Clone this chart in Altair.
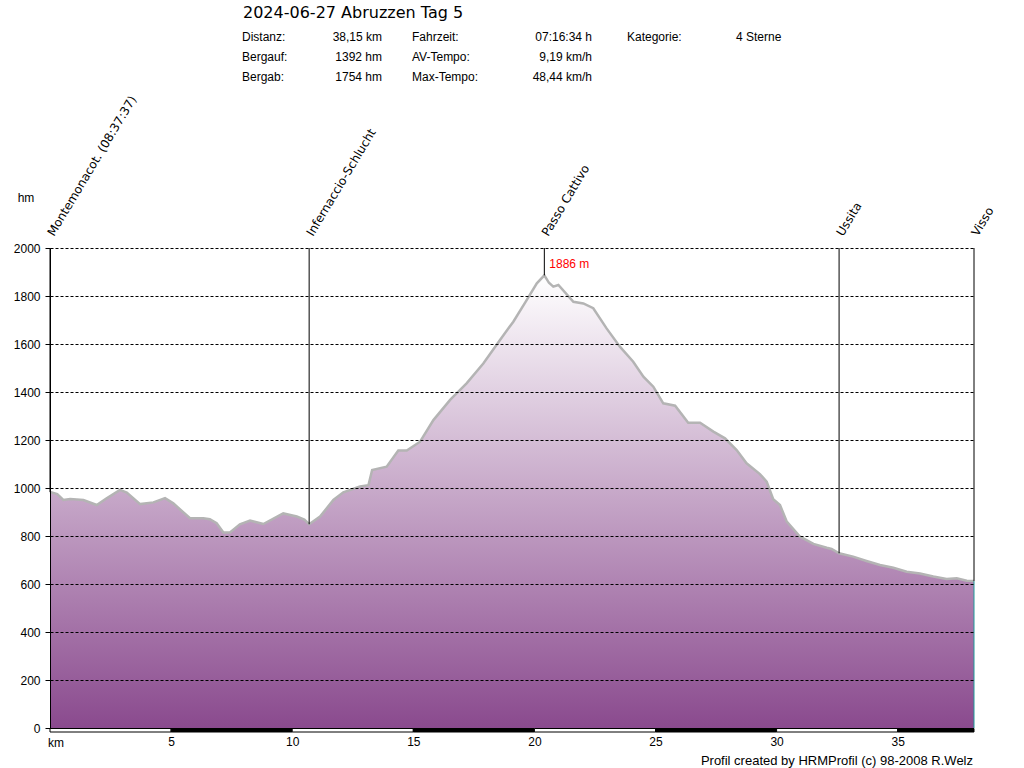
import altair as alt
import pandas as pd

# ---- data ----
km = [0, 0.3, 0.55, 0.83, 1.38, 1.93, 2.34, 2.89, 3.17, 3.72, 4.27, 4.75, 5.09, 5.78, 6.33, 6.6,
      6.88, 7.16, 7.43, 7.84, 8.26, 8.81, 9.63, 10.19, 10.5, 10.7, 11.15, 11.7, 12.11, 12.8, 13.15,
      13.3, 13.9, 14.38, 14.73, 15.28, 15.83, 16.52, 17.2, 17.89, 18.58, 19.13, 19.68, 20.1, 20.41,
      20.6, 20.78, 20.99, 21.61, 22.02, 22.43, 22.98, 23.53, 24.08, 24.5, 24.91, 25.32, 25.81, 26.35,
      26.84, 27.39, 27.87, 28.35, 28.76, 29.31, 29.59, 29.86, 30.14, 30.42, 30.97, 31.52, 32.07,
      32.27, 32.58, 33.16, 33.71, 34.27, 34.82, 35.37, 35.92, 36.47, 37.02, 37.44, 37.85, 38.15]
elev = [983, 975, 950, 954, 950, 929, 957, 992, 981, 933, 940, 958, 936, 874, 874, 870,
        853, 815, 815, 849, 864, 850, 894, 881, 868, 849, 881, 950, 982, 1006, 1012,
        1075, 1089, 1156, 1156, 1193, 1283, 1367, 1436, 1519, 1617, 1693, 1783, 1853, 1886,
        1855, 1839, 1846, 1776, 1769, 1749, 1665, 1589, 1526, 1464, 1422, 1353, 1343, 1272,
        1272, 1235, 1207, 1158, 1103, 1058, 1026, 953, 929, 860, 797, 767, 751,
        746, 728, 714, 696, 679, 668, 651, 644, 631, 621, 624, 614, 612]

wp_names = ["Montemonacot. (08:37:37)", "Infernaccio-Schlucht", "Passo Cattivo", "Ussita", "Visso"]
wp_km = [0, 10.7, 20.41, 32.58, 38.15]
wp_elev = [983, 849, 1886, 728, 612]

peak_km = [20.41]
peak_elev = [1886]
peak_label = ["1886 m"]

bar_start = [0, 5, 10, 15, 20, 25, 30, 35]
bar_end = [5, 10, 15, 20, 25, 30, 35, 38.15]
bar_fill = ["white", "black", "white", "black", "white", "black", "white", "black"]

y_ticks = [0, 200, 400, 600, 800, 1000, 1200, 1400, 1600, 1800, 2000]
x_ticks = [5, 10, 15, 20, 25, 30, 35]
total_km = 38.15

title_text = "2024-06-27 Abruzzen Tag 5"
stat_col1 = ["Distanz:", "Bergauf:", "Bergab:"]
stat_col2 = ["38,15 km", "1392 hm", "1754 hm"]
stat_col3 = ["Fahrzeit:", "AV-Tempo:", "Max-Tempo:"]
stat_col4 = ["07:16:34 h", "9,19 km/h", "48,44 km/h"]
stat_col5 = ["Kategorie:"]
stat_col6 = ["4 Sterne"]
footer_text = "Profil created by HRMProfil (c) 98-2008 R.Welz"

# ---- frames ----
profile = pd.DataFrame({"km": km, "elev": elev})
wp = pd.DataFrame({"name": wp_names, "km": wp_km, "elev": wp_elev, "top": [max(y_ticks)] * len(wp_km)})
peak = pd.DataFrame({"km": peak_km, "elev": peak_elev, "label": peak_label})
bars = pd.DataFrame({"start": bar_start, "end": bar_end, "fill": bar_fill})
last = pd.DataFrame({"km": [total_km], "elev": [elev[-1]], "zero": [0]})

xs = alt.Scale(domain=[0, total_km], nice=False, zero=False)
ys = alt.Scale(domain=[0, max(y_ticks)], nice=False)

SANS = "Liberation Sans"

grad = alt.Gradient(
    gradient="linear",
    stops=[alt.GradientStop(color="#8a4a8e", offset=0), alt.GradientStop(color="#ffffff", offset=1)],
    x1=1, x2=1, y1=1, y2=0,
)

area = alt.Chart(profile).mark_area(color=grad).encode(
    x=alt.X("km:Q", scale=xs, axis=alt.Axis(
        values=x_ticks, title=None, domain=False, ticks=False, grid=False,
        labelBaseline="top", labelPadding=8, labelFont=SANS, labelFontSize=12,
        labelColor="black", labelAlign="center")),
    y=alt.Y("elev:Q", scale=ys, axis=alt.Axis(
        values=y_ticks, format="d", title=None, grid=True, gridColor="black", gridDash=[3, 2],
        gridWidth=1, gridOpacity=1, domainColor="black", domainWidth=1, tickColor="black",
        tickSize=5, labelPadding=5, labelFont=SANS, labelFontSize=12, labelColor="black",
        zindex=1)),
)

line = alt.Chart(profile).mark_line(color="#b4b4b4", strokeWidth=2.5).encode(
    x=alt.X("km:Q", scale=xs), y=alt.Y("elev:Q", scale=ys))

rules = alt.Chart(wp).mark_rule(color="black", strokeWidth=1).encode(
    x=alt.X("km:Q", scale=xs), y=alt.Y("top:Q", scale=ys), y2="elev:Q")

edge = alt.Chart(last).mark_rule(color="#1f9a9a", strokeWidth=1).encode(
    x=alt.X("km:Q", scale=xs), y=alt.Y("elev:Q", scale=ys), y2="zero:Q")

# offsets are in the rotated frame: together they move the anchor ~11px up, ~4px right
wp_text = alt.Chart(wp).mark_text(
    angle=301, align="left", baseline="alphabetic", font="DejaVu Sans", fontSize=12,
    color="black", dx=11.5, dy=-2.3).encode(
    x=alt.X("km:Q", scale=xs), y=alt.Y("top:Q", scale=ys), text="name:N")

peak_text = alt.Chart(peak).mark_text(
    align="left", baseline="bottom", font=SANS, fontSize=12, color="#ff0000", dx=5, dy=-4).encode(
    x=alt.X("km:Q", scale=xs), y=alt.Y("elev:Q", scale=ys), text="label:N")

bar = alt.Chart(bars).mark_rect(stroke="black", strokeWidth=1).encode(
    x=alt.X("start:Q", scale=xs), x2="end:Q",
    y=alt.value(480.5), y2=alt.value(484),
    fill=alt.Fill("fill:N", scale=None))


def label(text, x, y, align="left", size=12, font=SANS, baseline="middle"):
    return alt.Chart(pd.DataFrame({"t": [text]})).mark_text(
        align=align, baseline=baseline, font=font, fontSize=size, color="black").encode(
        x=alt.value(x), y=alt.value(y), text="t:N")


texts = [
    label(title_text, 193, -230, size=16, font="DejaVu Sans", baseline="alphabetic"),
    label("hm", -24, -50, align="center"),
    label("km", -2, 495),
    label(footer_text, 923, 513, align="right", size=13),
]
row_y = [-211, -191, -171]
for i in range(3):
    texts.append(label(stat_col1[i], 192, row_y[i]))
    texts.append(label(stat_col2[i], 332, row_y[i], align="right"))
    texts.append(label(stat_col3[i], 362, row_y[i]))
    texts.append(label(stat_col4[i], 542, row_y[i], align="right"))
texts.append(label(stat_col5[0], 577, row_y[0]))
texts.append(label(stat_col6[0], 686, row_y[0]))

chart = alt.layer(area, line, rules, edge, bar, wp_text, peak_text, *texts).properties(
    width=924, height=480,
    autosize=alt.AutoSizeParams(type="none"),
    padding={"left": 50, "top": 248, "right": 50, "bottom": 40},
    background="white",
).configure_view(stroke=None)

chart.save("out.html", embed_options={"renderer": "svg", "actions": False})
